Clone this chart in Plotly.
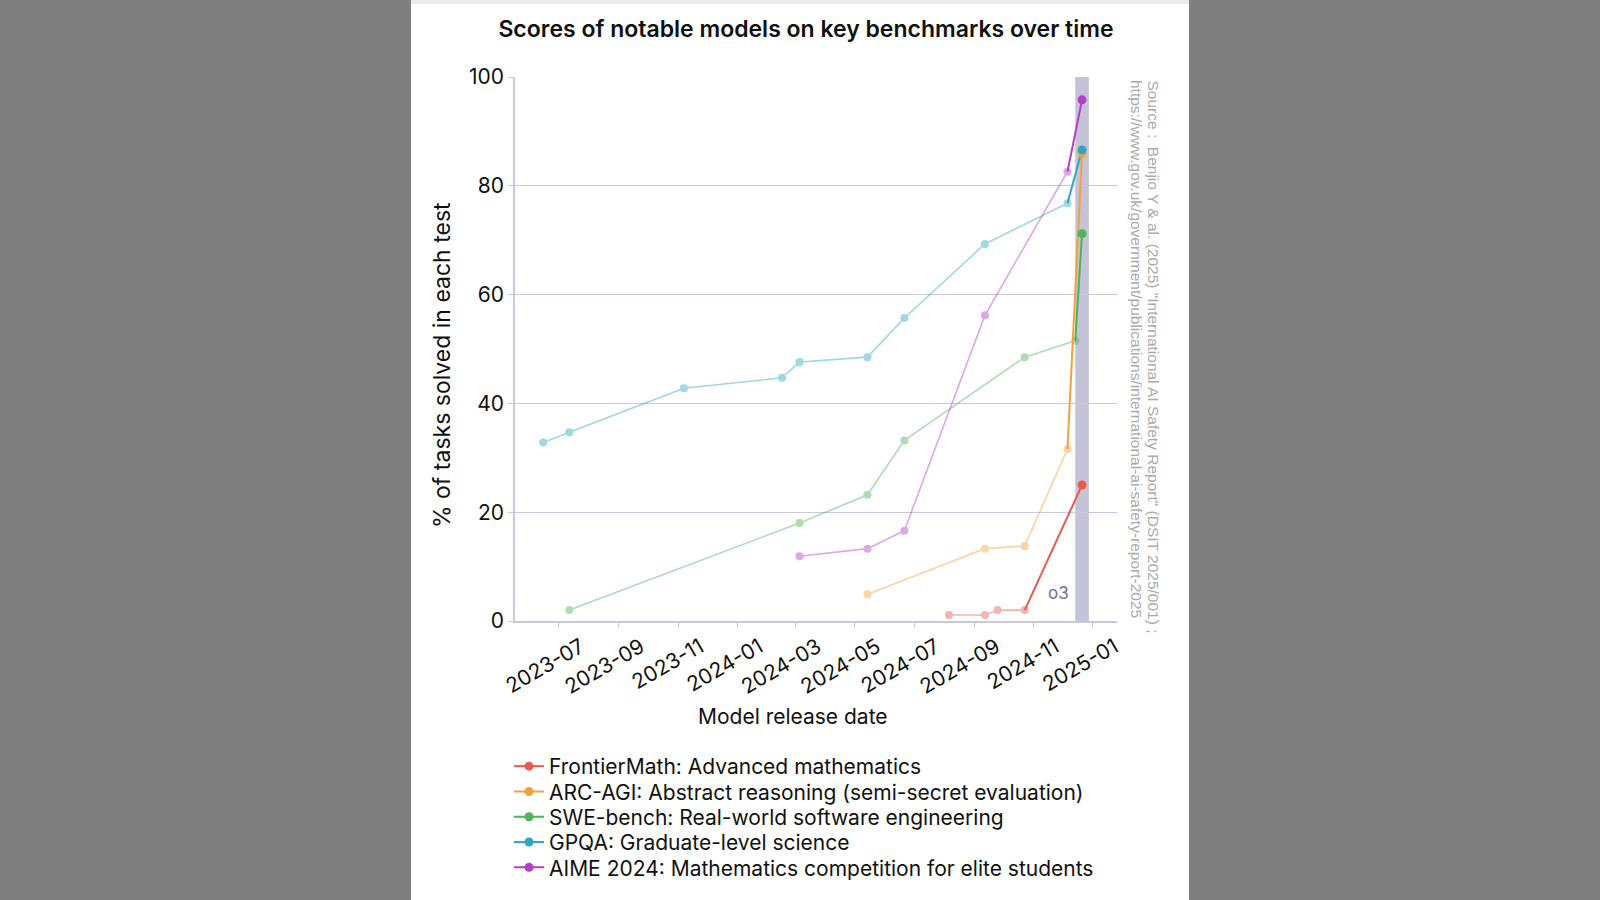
import plotly.graph_objects as go

# ---- data ----
fm_dates = ["2024-08-06", "2024-09-12", "2024-09-25", "2024-10-23", "2024-12-21"]
fm_vals = [1.1, 1.1, 2.0, 2.0, 25.0]

arc_dates = ["2024-05-14", "2024-09-12", "2024-10-23", "2024-12-06", "2024-12-21"]
arc_vals = [4.9, 13.3, 13.8, 31.6, 86.0]

swe_dates = ["2023-07-12", "2024-03-05", "2024-05-14", "2024-06-21", "2024-10-23", "2024-12-14", "2024-12-21"]
swe_vals = [2.0, 18.0, 23.2, 33.2, 48.5, 51.5, 71.2]

gpqa_dates = ["2023-06-15", "2023-07-12", "2023-11-07", "2024-02-16", "2024-03-05",
              "2024-05-14", "2024-06-21", "2024-09-12", "2024-12-06", "2024-12-21"]
gpqa_vals = [32.8, 34.7, 42.8, 44.7, 47.6, 48.5, 55.7, 69.3, 76.8, 86.6]

aime_dates = ["2024-03-05", "2024-05-14", "2024-06-21", "2024-09-12", "2024-12-06", "2024-12-21"]
aime_vals = [11.9, 13.3, 16.6, 56.2, 82.6, 95.8]

series_names = [
    "FrontierMath: Advanced mathematics",
    "ARC-AGI: Abstract reasoning (semi-secret evaluation)",
    "SWE-bench: Real-world software engineering",
    "GPQA: Graduate-level science",
    "AIME 2024: Mathematics competition for elite students",
]
series_colors = ["#ea5a4e", "#f2a13d", "#4fb35a", "#2fa7c2", "#b43fc6"]
series_dates = [fm_dates, arc_dates, swe_dates, gpqa_dates, aime_dates]
series_vals = [fm_vals, arc_vals, swe_vals, gpqa_vals, aime_vals]

o3_band = ["2024-12-14", "2024-12-28"]
o3_label = "o3"
x_range = ["2023-05-17", "2025-01-26"]
x_ticks = ["2023-07-01", "2023-09-01", "2023-11-01", "2024-01-01", "2024-03-01",
           "2024-05-01", "2024-07-01", "2024-09-01", "2024-11-01", "2025-01-01"]
x_ticktext = ["2023-07", "2023-09", "2023-11", "2024-01", "2024-03",
              "2024-05", "2024-07", "2024-09", "2024-11", "2025-01"]
title_text = "Scores of notable models on key benchmarks over time"
x_title = "Model release date"
y_title = "% of tasks solved in each test"
source_lines = ['Source :  Benjio Y & al. (2025) "International AI Safety Report" (DSIT 2025/001) ;',
                'https://www.gov.uk/government/publications/international-ai-safety-report-2025']

FONT = "Inter, Lato, sans-serif"
GRID = "#c9c8de"

W, H = 1600, 900
L, R, T, B = 515, 483, 77, 279
pw, ph = W - L - R, H - T - B

def px2x(px):
    return (px - L) / pw

def py2y(py):
    return (H - B - py) / ph

fig = go.Figure()

# faded historical traces
for name, col, d, v in zip(series_names, series_colors, series_dates, series_vals):
    fig.add_trace(go.Scatter(
        x=d[:-1], y=v[:-1], mode="lines+markers", opacity=0.45,
        line=dict(color=col, width=1.6), marker=dict(color=col, size=8),
        showlegend=False, hoverinfo="skip"))
# bright o3 segments
for name, col, d, v in zip(series_names, series_colors, series_dates, series_vals):
    fig.add_trace(go.Scatter(
        x=d[-2:], y=v[-2:], mode="lines",
        line=dict(color=col, width=2),
        showlegend=False, hoverinfo="skip"))
# bright o3 markers (legend entries, one legend per row for tight spacing)
legend_rows = [766.5, 791.8, 817.1, 842.4, 867.7]
legend_layout = {}
for i, (name, col, d, v) in enumerate(zip(series_names, series_colors, series_dates, series_vals)):
    lname = "legend" if i == 0 else f"legend{i + 1}"
    fig.add_trace(go.Scatter(
        x=d[-1:], y=v[-1:], mode="lines+markers", name=name, legend=lname,
        line=dict(color=col, width=2), marker=dict(color=col, size=9)))
    legend_layout[lname] = dict(
        x=px2x(509), y=py2y(legend_rows[i]), xanchor="left", yanchor="middle",
        bgcolor="rgba(0,0,0,0)", borderwidth=0,
        font=dict(size=21, family=FONT, color="#111111"))

shapes = [
    dict(type="rect", xref="paper", yref="paper", layer="below",
         x0=px2x(411), x1=px2x(1189), y0=py2y(900), y1=py2y(0),
         fillcolor="white", line=dict(width=0)),
    dict(type="rect", xref="paper", yref="paper", layer="below",
         x0=px2x(411), x1=px2x(1189), y0=py2y(4), y1=py2y(0),
         fillcolor="#ececec", line=dict(width=0)),
    dict(type="rect", xref="x", yref="paper", layer="between",
         x0=o3_band[0], x1=o3_band[1], y0=0, y1=1,
         fillcolor="#c5c3d8", line=dict(width=0)),
]

src_font = dict(size=15.5, color="#aaaaaa", family="Liberation Sans, Arial, sans-serif")
annotations = [
    dict(text=o3_label, x="2024-11-27", y=5.2, xref="x", yref="y",
         showarrow=False, font=dict(size=17, color="#6f6fa3", family=FONT)),
    dict(text=source_lines[0], x=px2x(1153), y=py2y(78), xref="paper", yref="paper",
         textangle=90, xanchor="center", yanchor="top", showarrow=False, font=src_font),
    dict(text=source_lines[1], x=px2x(1137), y=py2y(78), xref="paper", yref="paper",
         textangle=90, xanchor="center", yanchor="top", showarrow=False, font=src_font),
    dict(text=y_title, x=px2x(442), y=py2y(365), xref="paper", yref="paper",
         textangle=-90, xanchor="center", yanchor="middle", showarrow=False,
         font=dict(size=23, family=FONT, color="#111111")),
    dict(text=x_title, x=px2x(793), y=py2y(716), xref="paper", yref="paper",
         xanchor="center", yanchor="middle", showarrow=False,
         font=dict(size=21, family=FONT, color="#111111")),
]

fig.update_layout(
    width=W, height=H,
    margin=dict(l=L, r=R, t=T, b=B),
    paper_bgcolor="#7f7f7f",
    plot_bgcolor="#e8e8e8",
    font=dict(family=FONT, color="#111111", size=20),
    title=dict(text=title_text,
               x=px2x(806), xref="paper", xanchor="center",
               y=1 - 29 / H, yref="container", yanchor="middle",
               font=dict(family=FONT, size=23, color="#111111", weight=600)),
    shapes=shapes,
    showlegend=True,
    annotations=annotations,
    **legend_layout,
)

fig.update_xaxes(
    type="date", range=x_range, tickvals=x_ticks, ticktext=x_ticktext,
    tickangle=-30, showgrid=False, zeroline=False,
    showline=True, linecolor=GRID, linewidth=1.5,
    ticks="outside", ticklen=5, tickcolor=GRID,
    ticklabelshift=22, ticklabelstandoff=-1,
    tickfont=dict(size=21, family=FONT, color="#111111"),
)
fig.update_yaxes(
    range=[0, 100], tickvals=[0, 20, 40, 60, 80, 100],
    showgrid=True, gridcolor=GRID, gridwidth=1.2, zeroline=False,
    showline=True, linecolor=GRID, linewidth=1.5, mirror=False,
    ticks="outside", ticklen=5, tickcolor=GRID,
    tickfont=dict(size=21, family=FONT, color="#111111"),
)

fig.write_html("out.html", config={"displayModeBar": False},
               post_script="document.body.style.margin='0';"
                           "document.documentElement.style.overflow='hidden';")
